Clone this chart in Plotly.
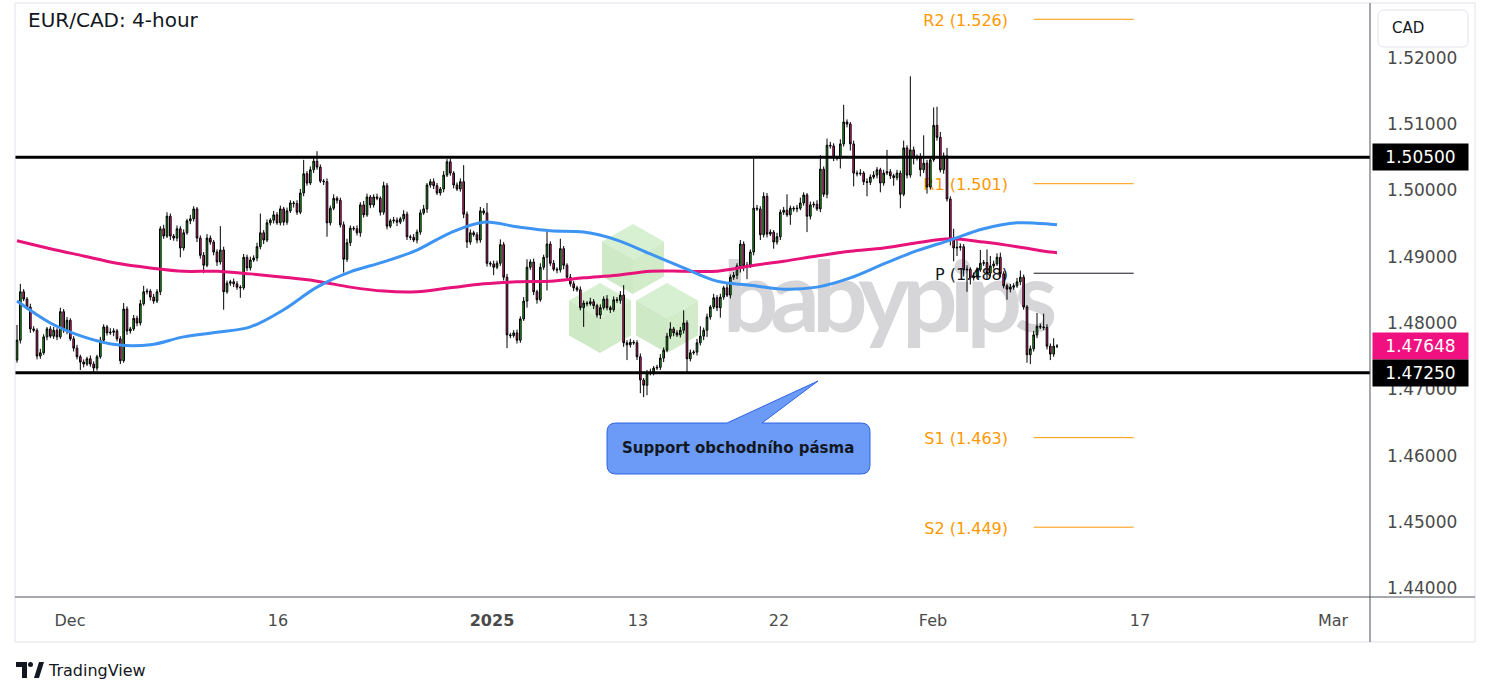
import numpy as np
import plotly.graph_objects as go

# ---------------- data (prices in 1/10000 CAD) ----------------
first_open_pips = 14744
close_pips = [
    14774, 14847, 14836, 14824, 14791, 14789, 14750, 14755, 14779, 14791,
    14780, 14789, 14779, 14817, 14789, 14804, 14776, 14762, 14749, 14741,
    14738, 14746, 14738, 14732, 14749, 14774, 14794, 14785, 14786, 14788,
    14776, 14743, 14821, 14788, 14791, 14807, 14800, 14829, 14847, 14848,
    14839, 14833, 14847, 14942, 14931, 14961, 14931, 14928, 14942, 14913,
    14936, 14954, 14957, 14972, 14928, 14902, 14887, 14928, 14922, 14907,
    14892, 14910, 14847, 14860, 14862, 14859, 14854, 14853, 14899, 14883,
    14895, 14898, 14915, 14936, 14925, 14951, 14955, 14963, 14951, 14972,
    14952, 14969, 14981, 14980, 14967, 14996, 15025, 15011, 15031, 15044,
    15035, 15014, 15013, 14951, 14973, 14988, 14985, 14948, 14896, 14921,
    14943, 14942, 14936, 14978, 14963, 14990, 14978, 14990, 14988, 14967,
    15007, 14946, 14954, 14955, 14952, 14957, 14964, 14930, 14929, 14925,
    14937, 14966, 14972, 15008, 15013, 15007, 14996, 15002, 15023, 15043,
    15026, 15008, 15002, 15013, 14964, 14922, 14936, 14933, 14925, 14969,
    14966, 14890, 14889, 14884, 14890, 14918, 14869, 14782, 14781, 14785,
    14774, 14806, 14833, 14884, 14892, 14847, 14835, 14884, 14899, 14919,
    14890, 14881, 14880, 14912, 14887, 14869, 14859, 14853, 14850, 14823,
    14830, 14829, 14832, 14826, 14812, 14823, 14836, 14823, 14820, 14835,
    14834, 14842, 14770, 14767, 14771, 14770, 14749, 14714, 14706, 14725,
    14726, 14732, 14733, 14747, 14759, 14780, 14791, 14785, 14782, 14789,
    14800, 14746, 14755, 14756, 14770, 14780, 14789, 14809, 14824, 14838,
    14823, 14839, 14853, 14842, 14869, 14872, 14886, 14919, 14886, 14887,
    14907, 14973, 14972, 14933, 14991, 14934, 14937, 14922, 14930, 14967,
    14970, 14963, 14973, 14972, 14973, 14981, 14993, 14961, 14978, 14979,
    14972, 15032, 14994, 15068, 15067, 15049, 15048, 15070, 15103, 15100,
    15070, 15026, 15025, 15026, 15013, 15012, 15020, 15023, 15031, 15011,
    15026, 15028, 15022, 15019, 15026, 14994, 15064, 15023, 15061, 15049,
    15050, 15031, 15041, 15005, 15046, 15098, 15080, 15031, 15052, 14987,
    14927, 14913, 14914, 14915, 14880, 14881, 14868, 14871, 14880, 14890,
    14891, 14875, 14886, 14889, 14899, 14874, 14856, 14851, 14854, 14856,
    14862, 14869, 14824, 14752, 14761, 14782, 14795, 14794, 14793, 14765,
    14753, 14765, 14765,
]
upper_wick_pips = [
    23, 12, 4, 3, 5, 4, 3, 6, 4, 3,
    4, 5, 3, 6, 4, 5, 3, 4, 5, 3,
    4, 3, 5, 4, 3, 5, 4, 3, 6, 4,
    3, 4, 9, 4, 3, 5, 4, 6, 9, 4,
    3, 5, 4, 4, 6, 6, 4, 3, 5, 4,
    5, 3, 6, 4, 3, 4, 5, 6, 4, 3,
    4, 36, 5, 4, 3, 5, 4, 3, 5, 4,
    5, 4, 6, 29, 4, 5, 3, 6, 4, 5,
    3, 5, 4, 3, 5, 6, 21, 4, 5, 6,
    15, 4, 3, 5, 4, 6, 3, 4, 5, 6,
    4, 3, 5, 4, 6, 5, 3, 4, 5, 3,
    6, 4, 3, 5, 4, 3, 6, 4, 3, 5,
    4, 5, 6, 3, 4, 5, 4, 3, 6, 4,
    5, 3, 4, 5, 25, 4, 5, 3, 4, 6,
    4, 15, 3, 5, 4, 8, 4, 5, 3, 4,
    5, 4, 6, 12, 4, 5, 3, 6, 4, 21,
    4, 5, 3, 15, 4, 3, 5, 4, 3, 5,
    4, 3, 6, 4, 3, 5, 4, 6, 3, 5,
    4, 6, 15, 4, 5, 3, 4, 5, 3, 4,
    5, 3, 4, 6, 4, 5, 10, 3, 4, 5,
    19, 4, 5, 3, 6, 15, 4, 5, 3, 6,
    4, 5, 3, 6, 4, 5, 4, 6, 4, 5,
    4, 75, 5, 4, 6, 5, 4, 3, 6, 4,
    5, 24, 4, 3, 5, 8, 4, 3, 5, 4,
    6, 21, 4, 10, 5, 4, 3, 7, 26, 4,
    3, 5, 4, 6, 3, 5, 4, 6, 4, 3,
    5, 33, 4, 3, 5, 4, 11, 4, 111, 5,
    4, 6, 42, 5, 4, 27, 28, 8, 5, 12,
    4, 15, 15, 5, 4, 6, 3, 5, 4, 20,
    4, 20, 15, 5, 6, 7, 4, 3, 5, 4,
    6, 10, 4, 3, 5, 6, 20, 4, 20, 5,
    4, 12, 3,
]
lower_wick_pips = [
    4, 5, 3, 4, 6, 3, 5, 4, 3, 5,
    3, 4, 5, 3, 4, 6, 3, 5, 4, 12,
    5, 3, 4, 6, 4, 3, 5, 4, 3, 6,
    4, 5, 3, 6, 4, 3, 5, 4, 3, 4,
    5, 4, 3, 5, 4, 3, 6, 4, 5, 14,
    4, 3, 5, 4, 6, 5, 12, 3, 4, 5,
    6, 4, 27, 3, 4, 5, 4, 15, 3, 5,
    4, 3, 5, 4, 6, 3, 4, 5, 3, 4,
    5, 4, 3, 6, 4, 3, 5, 4, 3, 5,
    4, 3, 5, 21, 4, 3, 5, 4, 20, 4,
    5, 3, 4, 6, 4, 3, 5, 4, 3, 5,
    4, 5, 3, 4, 6, 3, 4, 5, 4, 3,
    5, 4, 3, 6, 4, 5, 3, 4, 5, 3,
    4, 5, 3, 4, 6, 9, 4, 3, 5, 4,
    3, 5, 4, 12, 3, 4, 5, 20, 4, 3,
    5, 4, 3, 10, 4, 5, 6, 3, 4, 50,
    4, 3, 5, 4, 6, 3, 4, 5, 3, 4,
    29, 4, 3, 5, 4, 6, 3, 4, 5, 3,
    4, 5, 6, 23, 4, 3, 5, 20, 18, 15,
    4, 5, 3, 4, 6, 3, 4, 5, 3, 4,
    5, 21, 4, 3, 5, 4, 6, 10, 4, 3,
    5, 15, 4, 3, 5, 4, 6, 10, 8, 20,
    4, 5, 3, 8, 4, 5, 3, 10, 4, 5,
    4, 3, 15, 4, 5, 3, 4, 24, 5, 4,
    3, 5, 4, 6, 4, 5, 3, 15, 4, 5,
    10, 20, 4, 3, 5, 21, 4, 3, 5, 14,
    4, 3, 5, 12, 4, 21, 3, 5, 4, 10,
    4, 10, 5, 10, 4, 3, 5, 4, 6, 4,
    10, 20, 12, 5, 10, 33, 10, 4, 5, 3,
    4, 10, 5, 4, 3, 5, 4, 16, 5, 4,
    3, 5, 4, 12, 14, 4, 5, 3, 4, 5,
    9, 4, 3,
]

# moving averages read at every 10th bar
ma_idx = [0, 10, 20, 30, 40, 50, 60, 70, 80, 90, 100, 110, 120, 130, 140, 150,
          160, 170, 180, 190, 200, 210, 220, 230, 240, 250, 260, 270, 280, 290,
          300, 310, 312]
ma_blue_pips = [14833, 14800, 14779, 14767, 14767, 14779, 14786, 14794, 14820, 14854,
                14877, 14892, 14910, 14936, 14952, 14945, 14939, 14937, 14925, 14904,
                14883, 14863, 14857, 14851, 14854, 14868, 14889, 14909, 14925, 14942,
                14951, 14949, 14948]
ma_pink_pips = [14924, 14912, 14901, 14890, 14883, 14878, 14878, 14874, 14869, 14863,
                14854, 14848, 14847, 14853, 14859, 14862, 14863, 14868, 14872, 14878,
                14878, 14878, 14886, 14893, 14901, 14908, 14913, 14921, 14927, 14922,
                14915, 14907, 14906]

tick_pos = [15.9, 78.3, 142.5, 186.3, 228.6, 274.8, 336.9, 394.8]
tick_text = ["Dec", "16", "<b>2025</b>", "13", "22", "Feb", "17", "Mar"]

resistance = 1.5050
support = 1.4725
last_price = 1.47648

pivot_names = ["R2", "R1", "P", "S1", "S2"]
pivot_levels = [1.5258, 1.5010, 1.4875, 1.4627, 1.4492]
pivot_text = ["1.526", "1.501", "1.488", "1.463", "1.449"]
pivot_start, pivot_end = 305, 335
pivot_label_end = 297.3

# ---------------- build ----------------
close = np.array(close_pips) / 1e4
opens = np.array([first_open_pips] + close_pips[:-1]) / 1e4
high = np.maximum(opens, close) + np.array(upper_wick_pips) / 1e4
low = np.minimum(opens, close) - np.array(lower_wick_pips) / 1e4
x = np.arange(len(close))

GREEN = "#22a822"
PINK = "#ea1a7c"
BLUE = "#3d94f2"
MAPINK = "#e8137a"
ORANGE = "#ff9800"
FONT = "DejaVu Sans"

# pixel -> paper helpers for decoration (plot area 15..1370 x 5..597)
def px(v):
    return (v - 15) / 1355.0

def py(v):
    return (597 - v) / 592.0

def path(points, close_path=True):
    s = "M " + " L ".join(f"{px(a):.5f},{py(b):.5f}" for a, b in points)
    return s + (" Z" if close_path else "")

fig = go.Figure()

fig.add_trace(go.Scatter(x=ma_idx, y=np.array(ma_pink_pips) / 1e4, mode="lines",
                         line=dict(color=MAPINK, width=3, shape="spline", smoothing=1.0),
                         hoverinfo="skip", showlegend=False))
fig.add_trace(go.Scatter(x=ma_idx, y=np.array(ma_blue_pips) / 1e4, mode="lines",
                         line=dict(color=BLUE, width=3, shape="spline", smoothing=1.0),
                         hoverinfo="skip", showlegend=False))

fig.add_trace(go.Candlestick(
    x=x, open=opens, high=high, low=low, close=close,
    increasing=dict(line=dict(color="black", width=1), fillcolor=GREEN),
    decreasing=dict(line=dict(color="black", width=1), fillcolor=PINK),
    whiskerwidth=0, showlegend=False, hoverinfo="skip"))

shapes = []
# watermark hexagons (cubes)
for cx, cy in [(633, 259), (600, 318), (667, 318)]:
    w, h = 31, 35
    top = [(cx, cy - h), (cx + w, cy - h / 2), (cx, cy), (cx - w, cy - h / 2)]
    left = [(cx - w, cy - h / 2), (cx, cy), (cx, cy + h), (cx - w, cy + h / 2)]
    right = [(cx, cy), (cx + w, cy - h / 2), (cx + w, cy + h / 2), (cx, cy + h)]
    for pts, col in [(top, "#d8f0d2"), (left, "#cde9c6"), (right, "#d2ecca")]:
        shapes.append(dict(type="path", xref="paper", yref="paper", path=path(pts),
                           fillcolor=col, line=dict(width=0), layer="below"))
# watermark text
shapes.append(dict(type="rect", xref="paper", yref="paper",
                   x0=px(716), x1=px(1056), y0=py(360), y1=py(226),
                   line=dict(width=0), fillcolor="rgba(0,0,0,0)", layer="below",
                   label=dict(text='<span style="letter-spacing:-8px">babypips</span>',
                              textposition="middle center",
                              font=dict(family="Lato", size=98, color="#d6d6d8", weight="bold"))))

# support / resistance lines
for lvl in [resistance, support]:
    shapes.append(dict(type="line", xref="paper", yref="y", x0=0, x1=1, y0=lvl, y1=lvl,
                       line=dict(color="black", width=3)))

# pivot lines and labels
for name, lvl, txt in zip(pivot_names, pivot_levels, pivot_text):
    col = "#131722" if name == "P" else ORANGE
    shapes.append(dict(type="line", xref="x", yref="y", x0=pivot_start, x1=pivot_end,
                       y0=lvl, y1=lvl, line=dict(color=col, width=1), layer="below"))
    shapes.append(dict(type="line", xref="x", yref="y", x0=pivot_label_end,
                       x1=pivot_label_end + 0.1, y0=lvl, y1=lvl,
                       line=dict(color="rgba(0,0,0,0)", width=0), layer="below",
                       label=dict(text=f"{name} ({txt})", textposition="start",
                                  xanchor="right", yanchor="middle", padding=0,
                                  font=dict(family=FONT, size=16, color=col))))

# frame lines
shapes.append(dict(type="rect", xref="paper", yref="paper", x0=0, x1=px(1475),
                   y0=py(642), y1=py(3), line=dict(color="#e0e3eb", width=1)))
shapes.append(dict(type="line", xref="paper", yref="paper", x0=1, x1=1, y0=py(642), y1=py(3),
                   line=dict(color="#50535e", width=1)))
shapes.append(dict(type="line", xref="paper", yref="paper", x0=0, x1=px(1475), y0=0, y1=0,
                   line=dict(color="#50535e", width=1)))

# CAD box (rounded)
def rounded(x0, y0, x1, y1, r):
    rx, ry = r / 1355.0, r / 592.0
    X0, X1, Y0, Y1 = px(x0), px(x1), py(y1), py(y0)
    return (f"M {X0+rx},{Y1} L {X1-rx},{Y1} Q {X1},{Y1} {X1},{Y1-ry} L {X1},{Y0+ry} "
            f"Q {X1},{Y0} {X1-rx},{Y0} L {X0+rx},{Y0} Q {X0},{Y0} {X0},{Y0+ry} "
            f"L {X0},{Y1-ry} Q {X0},{Y1} {X0+rx},{Y1} Z")

shapes.append(dict(type="path", xref="paper", yref="paper", path=rounded(1378, 10, 1468, 47, 6),
                   line=dict(color="#e0e3eb", width=1), fillcolor="white"))

# callout box with pointer
bx0, by0, bx1, by1, r = 607, 423, 870, 474, 9
rx, ry = r / 1355.0, r / 592.0
callout = (f"M {px(bx0)+rx},{py(by0)} L {px(727)},{py(by0)} L {px(818)},{py(381)} "
           f"L {px(762)},{py(by0)} L {px(bx1)-rx},{py(by0)} "
           f"Q {px(bx1)},{py(by0)} {px(bx1)},{py(by0)-ry} L {px(bx1)},{py(by1)+ry} "
           f"Q {px(bx1)},{py(by1)} {px(bx1)-rx},{py(by1)} L {px(bx0)+rx},{py(by1)} "
           f"Q {px(bx0)},{py(by1)} {px(bx0)},{py(by1)+ry} L {px(bx0)},{py(by0)-ry} "
           f"Q {px(bx0)},{py(by0)} {px(bx0)+rx},{py(by0)} Z")
shapes.append(dict(type="path", xref="paper", yref="paper", path=callout,
                   fillcolor="#6b9bf6", line=dict(color="#2f62e6", width=1)))

# TradingView logo glyph
shapes.append(dict(type="path", xref="paper", yref="paper",
                   path=path([(16, 662), (27, 662), (27, 678), (22, 678), (22, 667), (16, 667)]),
                   fillcolor="#131722", line=dict(width=0)))
shapes.append(dict(type="circle", xref="paper", yref="paper", x0=px(28), x1=px(33),
                   y0=py(667), y1=py(662), fillcolor="#131722", line=dict(width=0)))
shapes.append(dict(type="path", xref="paper", yref="paper",
                   path=path([(34, 678), (39, 662), (44, 662), (39, 678)]),
                   fillcolor="#131722", line=dict(width=0)))

annotations = [
    dict(text="EUR/CAD: 4-hour", xref="paper", yref="paper", x=px(26), y=py(20),
         xanchor="left", yanchor="middle", showarrow=False,
         font=dict(family=FONT, size=20, color="#131722")),
    dict(text="CAD", xref="paper", yref="paper", x=px(1390), y=py(28),
         xanchor="left", yanchor="middle", showarrow=False,
         font=dict(family=FONT, size=15, color="#131722")),
    dict(text="<b>Support obchodního pásma</b>", xref="paper", yref="paper",
         x=px(738), y=py(448), xanchor="center", yanchor="middle", showarrow=False,
         font=dict(family=FONT, size=15, color="#131722")),
    dict(text="TradingView", xref="paper", yref="paper", x=px(46), y=py(670),
         xanchor="left", yanchor="middle", showarrow=False,
         font=dict(family=FONT, size=16, color="#131722")),
]
for lvl, bg in [(resistance, "#000000"), (last_price, "#f0107f"), (support, "#000000")]:
    annotations.append(dict(text=f"{lvl:.5f}", xref="paper", yref="y", x=px(1372), y=lvl,
                            xanchor="left", yanchor="middle", showarrow=False,
                            bgcolor=bg, width=93, height=24, align="center",
                            font=dict(family=FONT, size=17, color="white")))

fig.update_layout(
    width=1491, height=697,
    margin=dict(l=15, r=121, t=5, b=100),
    paper_bgcolor="white", plot_bgcolor="white",
    shapes=shapes, annotations=annotations,
    showlegend=False,
    xaxis=dict(range=[-0.6, 405.9], showgrid=False, zeroline=False, showline=False,
               tickvals=tick_pos, ticktext=tick_text, ticks="", ticklabelstandoff=12,
               tickfont=dict(family=FONT, size=16, color="#4a4a4a"),
               rangeslider=dict(visible=False), fixedrange=True),
    yaxis=dict(range=[1.43867, 1.52795], side="right", showgrid=False, zeroline=False,
               showline=False, tick0=1.44, dtick=0.01, tickformat=".5f", ticks="",
               ticklabelstandoff=16,
               tickfont=dict(family=FONT, size=17, color="#4a4a4a"), fixedrange=True),
)

fig.write_html("out.html", config={"displayModeBar": False},
               post_script="document.body.style.margin='0';")
